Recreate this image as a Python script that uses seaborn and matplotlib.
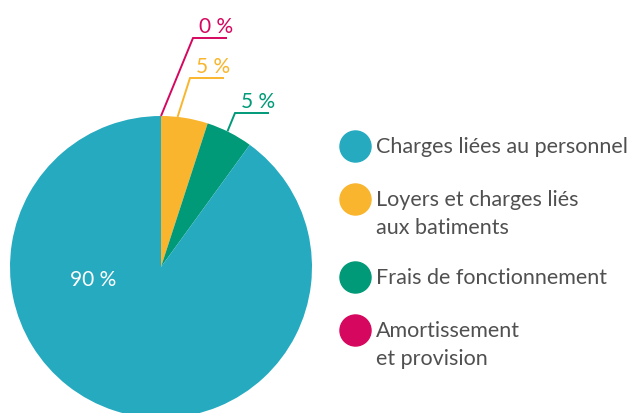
import matplotlib
matplotlib.use("Agg")
import matplotlib.pyplot as plt
import seaborn as sns
import numpy as np

# data, clockwise from 12 o'clock
categories = ["Amortissement\net provision",
              "Loyers et charges liés\naux batiments",
              "Frais de fonctionnement",
              "Charges liées au personnel"]
shares = [0, 5, 5, 90]
colors = ["#D5075E", "#F9B52D", "#009A78", "#25AAC0"]
legend_order = [3, 1, 2, 0]

sns.set_theme(style="white")
plt.rcParams["font.family"] = ["Lato", "DejaVu Sans"]

W, H = 633, 413
R, CX, CY = 151, 161, 267  # pie radius / centre in pixels


def px(x, y):
    return (x - CX) / R, (CY - y) / R


fig = plt.figure(figsize=(W / 100, H / 100), dpi=100)
ax = fig.add_axes([0, 0, 1, 1])
wedges, _ = ax.pie(shares, colors=colors, startangle=90, counterclock=False,
                   radius=1, wedgeprops=dict(linewidth=0))
ax.set_xlim(-CX / R, (W - CX) / R)
ax.set_ylim(-(H - CY) / R, CY / R)
ax.set_aspect("equal")
ax.axis("off")

# leader lines for the small slices: (slice index, anchor fraction, elbow px)
callouts = [(0, 0.0, (193, 38)), (1, 0.35, (190, 78)), (2, 0.45, (235, 113))]
for i, frac, (ex, ey) in callouts:
    w = wedges[i]
    ang = np.deg2rad(w.theta2 - frac * (w.theta2 - w.theta1))
    x0, y0 = np.cos(ang), np.sin(ang)
    x1, y1 = px(ex, ey)
    x2 = x1 + 34 / R
    ax.plot([x0, x1, x2], [y0, y1, y1], color=colors[i], lw=1.4,
            solid_capstyle="butt", solid_joinstyle="miter")
    ax.text(x1 + 6 / R, y1 + 1 / R, f"{shares[i]} %", color=colors[i],
            fontsize=15, ha="left", va="bottom")

lx, ly = px(93, 280)
ax.text(lx, ly, f"{shares[3]} %", color="white", fontsize=15,
        ha="center", va="center")

# legend
legend_rows = [146, 199, 277, 330]
for row, i in zip(legend_rows, legend_order):
    mx, my = px(355, row)
    ax.scatter([mx], [my], s=31 ** 2 * 0.52, color=colors[i], zorder=3)
    tx, ty = px(376, row - 9)
    ax.text(tx, ty, categories[i], color="#505050", fontsize=15.5,
            ha="left", va="top", linespacing=1.5)

fig.savefig("out.png", dpi=100)
